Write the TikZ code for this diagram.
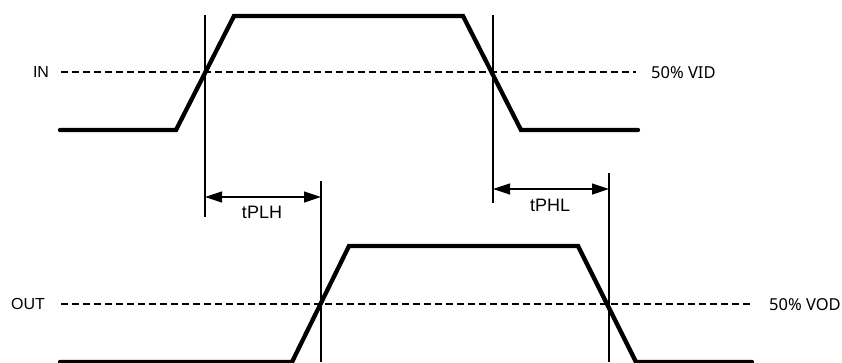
\documentclass[tikz,border=0pt]{standalone}
\usepackage{fontspec}
\setmainfont{Liberation Sans}
\newfontfamily\nts{Noto Sans}
\usetikzlibrary{arrows.meta}
\begin{document}
\begin{tikzpicture}[x=1pt,y=-1pt,
  wave/.style={line width=4.3pt,line join=miter,line cap=round},
  thin/.style={line width=1.2pt},
  refline/.style={line width=1.1pt,dash pattern=on 7pt off 4pt},
  dim/.style={line width=1.2pt,{Triangle[length=17pt,width=11pt]}-{Triangle[length=17pt,width=11pt]}},
  lbl/.style={font=\fontsize{16}{19}\selectfont,inner sep=0pt},
  lvl/.style={font=\nts\fontsize{16.5}{19}\selectfont,inner sep=0pt,anchor=west},
  tlbl/.style={font=\fontsize{18}{21}\selectfont,inner sep=0pt}]
\useasboundingbox (0,0) rectangle (842,362);
% IN waveform
\coordinate (i0) at (60,130);
\coordinate (i1) at (176,130);
\coordinate (i2) at (234,16);
\coordinate (i3) at (463,16);
\coordinate (i4) at (521,130);
\coordinate (i5) at (638,130);
\draw[wave] (i0) -- (i1) -- (i2) -- (i3) -- (i4) -- (i5);
% OUT waveform
\coordinate (o0) at (60,362);
\coordinate (o1) at (292,362);
\coordinate (o2) at (349,246);
\coordinate (o3) at (578,246);
\coordinate (o4) at (636,362);
\coordinate (o5) at (752,362);
\draw[wave] (o0) -- (o1) -- (o2) -- (o3) -- (o4) -- (o5);
% reference levels
\node[lbl] (inl) at (41,72) {IN};
\coordinate (ia) at (61,72);
\coordinate (ib) at (636,72);
\draw[refline] (ia) -- (ib);
\node[lvl] (vid) at (651,73) {50\% VID};
\node[lbl] (outl) at (28,304) {OUT};
\coordinate (oa) at (61,304);
\coordinate (ob) at (753,304);
\draw[refline] (oa) -- (ob);
\node[lvl] (vod) at (769,305) {50\% VOD};
% vertical markers
\coordinate (v1t) at (205,15);
\coordinate (v1b) at (205,217);
\coordinate (v2t) at (321,181);
\coordinate (v2b) at (321,362);
\coordinate (v3t) at (493,15);
\coordinate (v3b) at (493,203);
\coordinate (v4t) at (609,173);
\coordinate (v4b) at (609,362);
\draw[thin] (v1t) -- (v1b);
\draw[thin] (v2t) -- (v2b);
\draw[thin] (v3t) -- (v3b);
\draw[thin] (v4t) -- (v4b);
% dimension arrows
\coordinate (a1) at (205,197);
\coordinate (a2) at (321,197);
\coordinate (b1) at (493,189);
\coordinate (b2) at (609,189);
\draw[dim] (a1) -- (a2);
\draw[dim] (b1) -- (b2);
\node[tlbl] (tplh) at (262,212) {tPLH};
\node[tlbl] (tphl) at (550,205) {tPHL};
\end{tikzpicture}
\end{document}
